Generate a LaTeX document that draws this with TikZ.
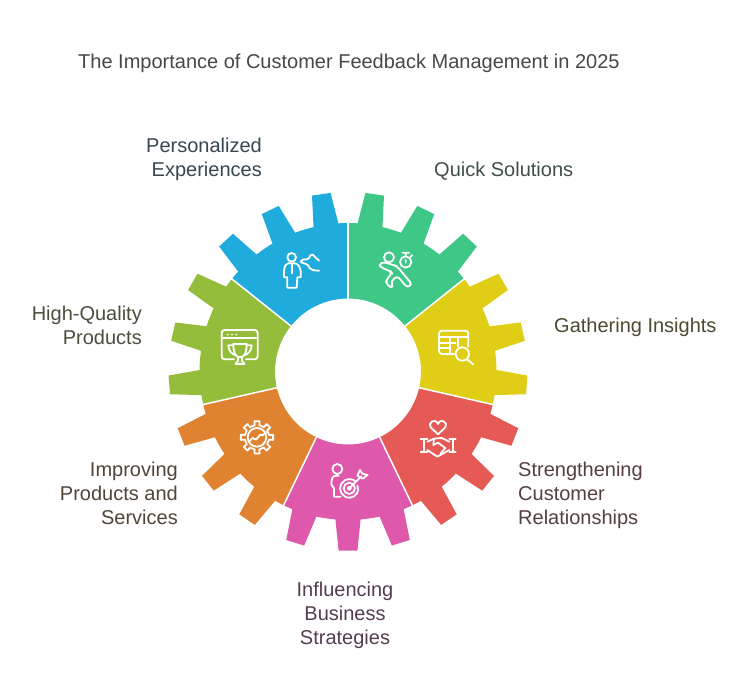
\documentclass[tikz,border=0pt]{standalone}
\usepackage{fontspec}
\setmainfont{Liberation Sans}
\usepackage{xcolor}
\definecolor{gearblue}{HTML}{1FACDC}
\definecolor{geargreen}{HTML}{3EC787}
\definecolor{gearyellow}{HTML}{E0CD15}
\definecolor{gearred}{HTML}{E55A55}
\definecolor{gearpink}{HTML}{DE59AB}
\definecolor{gearorange}{HTML}{E08330}
\definecolor{gearlime}{HTML}{93BD3A}
\definecolor{textblue}{HTML}{36474F}
\definecolor{textgreen}{HTML}{3F4F48}
\definecolor{textyellow}{HTML}{4B4A2E}
\definecolor{textred}{HTML}{563F40}
\definecolor{textpink}{HTML}{553C50}
\definecolor{textorange}{HTML}{514438}
\definecolor{textlime}{HTML}{4A4F3C}

\begin{document}
\begin{tikzpicture}[
		x=1pt, y=1pt,
		label/.style={font=\fontsize{20}{24}\selectfont, inner sep=0pt, align=#1},
		iconline/.style={draw=white, line width=1.8pt, line cap=round, line join=round},
		icon/.style 2 args={shift={(#1,697-#2)}, x=0.3333pt, y=-0.3333pt}
		]
		\useasboundingbox (0,0) rectangle (744,697);
	
		% Title
		\node[label=left, anchor=west, text=black!72] (title) at (78,634) {The Importance of Customer Feedback Management in 2025};
	
		% Gear sectors
		\begin{scope}[shift={(348,325.5)}]
			\foreach \ang/\col in {90/gearblue, 38.57/geargreen, -12.86/gearyellow, -64.29/gearred, -115.71/gearpink, -167.14/gearorange, 141.43/gearlime} {
				\fill[\col, rotate=\ang] (0:73) -- (0:148.5) arc[start angle=0, end angle=3.72, radius=148.5]
					-- (5.57:179.5) -- (11.57:179.5) -- (13.42:148.5) arc[start angle=13.42, end angle=20.86, radius=148.5]
					-- (22.71:179.5) -- (28.71:179.5) -- (30.56:148.5) arc[start angle=30.56, end angle=38.01, radius=148.5]
					-- (39.86:179.5) -- (45.86:179.5) -- (47.71:148.5) arc[start angle=47.71, end angle=51.43, radius=148.5]
					-- (51.43:73) arc[start angle=51.43, end angle=0, radius=73] -- cycle;
			}
			\foreach \ang in {90, 38.57, -12.86, -64.29, -115.71, -167.14, 141.43} {
				\draw[white, line width=1.5pt] (\ang:72) -- (\ang:150);
			}
		\end{scope}
	
		% Personalized Experiences icon
		\begin{scope}[icon={270}{240}]
			\draw[iconline] (65,52) circle[radius=13];
			\draw[iconline] (55,70) .. controls (45,74) and (42,82) .. (42,92) -- (42,112) -- (52,112) -- (52,143) -- (80,143) -- (82,112) -- (92,112) -- (92,92) .. controls (92,82) and (86,74) .. (75,70) -- cycle;
			\draw[iconline] (65,72) -- (65,100);
			\draw[iconline] (147,62) -- (128,44) .. controls (118,42) and (122,56) .. (110,58) .. controls (102,60) and (95,56) .. (92,64) .. controls (95,72) and (108,68) .. (114,76) .. controls (120,90) and (130,92) .. (147,92);
		\end{scope}
	
		% Quick Solutions icon
		\begin{scope}[icon={370}{240}]
			\draw[iconline] (57,52) circle[radius=15];
			\draw[iconline] (107,66) circle[radius=17];
			\draw[iconline] (97,38) -- (117,38) (107,38) -- (107,49) (107,60) -- (107,68) (122,50) -- (127,45);
			\draw[iconline, rounded corners=3pt] (72,76) -- (42,66) -- (28,72) -- (32,82) -- (62,94) -- (66,100) -- (50,118) -- (48,128) -- (60,143) -- (70,138) -- (62,125) -- (82,108) -- (112,143) -- (126,133) -- (92,92) -- (80,78) -- cycle;
		\end{scope}
	
		% Gathering Insights icon
		\begin{scope}[icon={425}{320}]
			\draw[iconline, rounded corners=3pt] (88,102) -- (42,102) -- (42,32) -- (130,32) -- (130,80);
			\draw[iconline] (42,50) -- (130,50) (42,68) -- (75,68) (42,85) -- (75,85) (75,50) -- (75,102) (100,50) -- (100,80) (75,68) -- (92,68);
			\draw[iconline] (112,102) circle[radius=20];
			\draw[iconline] (126,118) -- (145,133);
		\end{scope}
	
		% Strengthening Customer Relationships icon
		\begin{scope}[icon={410}{410}]
			\draw[iconline] (84,73) -- (62,52) .. controls (52,38) and (76,22) .. (84,42) .. controls (92,22) and (116,38) .. (106,52) -- cycle;
			\draw[iconline] (32,88) -- (52,88) (32,126) -- (52,126) (42,88) -- (42,126);
			\draw[iconline] (118,88) -- (137,88) (118,126) -- (137,126) (128,88) -- (128,126);
			\draw[iconline] (52,95) -- (72,86) -- (95,84) -- (118,95) (52,120) -- (82,140) -- (118,120);
			\draw[iconline] (72,86) -- (70,105) -- (84,98) -- (106,114) -- (92,130);
		\end{scope}
	
		% Influencing Business Strategies icon
		\begin{scope}[icon={320}{455}]
			\draw[iconline] (52,42) circle[radius=15];
			\draw[iconline] (56,62) -- (42,63) .. controls (35,68) and (33,82) .. (35,90) -- (42,100) -- (42,125) -- (62,125);
			\draw[iconline] (108,80) .. controls (98,70) and (75,68) .. (65,85) .. controls (52,105) and (68,130) .. (90,128) .. controls (108,127) and (120,108) .. (112,92);
			\draw[iconline] (88,100) circle[radius=17];
			\draw[iconline] (88,100) circle[radius=5];
			\draw[iconline] (88,100) -- (124,64);
			\draw[iconline] (112,62) -- (120,45) -- (127,56) -- (143,60) -- (128,71) -- (112,62);
		\end{scope}
	
		% Improving Products and Services icon
		\begin{scope}[icon={228}{408}]
			\draw[iconline] ([shift={(87,88)}]-11:37)
				\foreach \a in {0,45,...,315} {
					-- ([shift={(87,88)}]\a-11:37) -- ([shift={(87,88)}]\a-9:49) -- ([shift={(87,88)}]\a+9:49) -- ([shift={(87,88)}]\a+11:37)
				} -- cycle;
			\draw[iconline] (87,88) circle[radius=28];
			\draw[iconline] (62,102) -- (74,90) -- (84,95) -- (97,80) -- (104,82) -- (114,72);
		\end{scope}
	
		% High-Quality Products icon
		\begin{scope}[icon={210}{320}]
			\draw[iconline, rounded corners=3pt] (72,118) -- (35,118) -- (35,30) -- (143,30) -- (143,118) -- (108,118);
			\draw[iconline] (35,55) -- (143,55);
			\foreach \dotx in {53,66,79} {
				\fill[white] (\dotx,44) circle[radius=3];
			}
			\draw[iconline] (70,72) -- (110,72) .. controls (110,95) and (105,112) .. (90,112) .. controls (75,112) and (70,95) .. (70,72) -- cycle;
			\draw[iconline] (70,76) -- (55,76) .. controls (55,92) and (65,102) .. (77,106);
			\draw[iconline] (110,76) -- (125,76) .. controls (125,92) and (115,102) .. (103,106);
			\draw[iconline] (85,112) .. controls (87,120) and (82,128) .. (76,132) -- (104,132) .. controls (98,128) and (93,120) .. (95,112);
		\end{scope}
	
		% Labels
		\node[label=right, anchor=east, text=textblue] (personalized) at (262,538) {Personalized\\Experiences};
		\node[label=left, anchor=west, text=textgreen] (quick) at (434,526) {Quick Solutions};
		\node[label=left, anchor=west, text=textyellow] (gathering) at (554,370) {Gathering Insights};
		\node[label=left, anchor=west, text=textred] (strengthening) at (518,202) {Strengthening\\Customer\\Relationships};
		\node[label=center, text=textpink] (influencing) at (345,82) {Influencing\\Business\\Strategies};
		\node[label=right, anchor=east, text=textorange] (improving) at (178,204) {Improving\\Products and\\Services};
		\node[label=right, anchor=east, text=textlime] (highquality) at (142,372) {High-Quality\\Products};
	\end{tikzpicture}
\end{document}
